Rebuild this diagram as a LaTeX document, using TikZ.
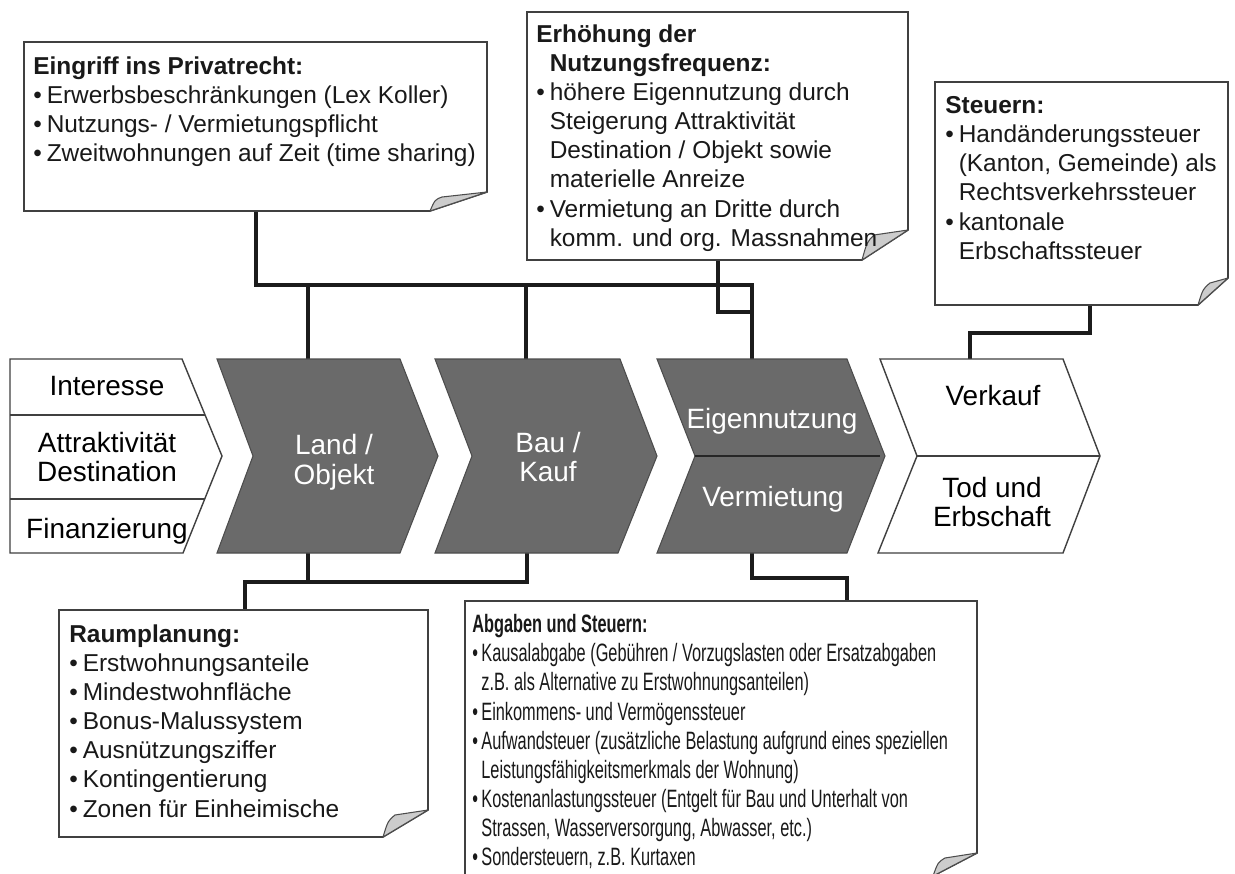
\documentclass[tikz,border=0pt]{standalone}
\usepackage{fontspec}
\setmainfont{Liberation Sans}
\newfontfamily\narrowfont[FakeStretch=0.65]{Liberation Sans}
\usetikzlibrary{calc}
\definecolor{chevgray}{RGB}{106,106,106}
\definecolor{linegray}{RGB}{28,28,28}
\newcommand\bul{\makebox[0.55em][l]{\textbullet}}
\newcommand\ind{\hspace*{0.55em}}
\newcommand\nbul{\makebox[0.36em][l]{\textbullet}}
\newcommand\nind{\hspace*{0.36em}}
% left, top, right, bottom, fold width, fold height
\newcommand\notebox[6]{%
  \draw[note] (#1,#2) -- (#3,#2) -- (#3,#4-#6) -- (#3-#5,#4) -- (#1,#4) -- cycle;
  \draw[fold] (#3-#5,#4) .. controls (#3-#5+5,#4-0.6*#6) .. (#3-#5+12,#4-#6+5) -- (#3,#4-#6) -- cycle;}
\tikzset{
  chevdark/.style={fill=chevgray, draw=black!70, line width=0.6pt},
  chevlight/.style={fill=white, draw=black!75, line width=0.8pt},
  link/.style={draw=linegray, line width=2.8pt},
  note/.style={fill=white, draw=black!75, line width=0.9pt},
  fold/.style={fill=gray!40, draw=black!70, line width=0.6pt, line join=round},
  lab/.style={align=center, inner sep=0pt, font=\fontsize{15.9}{17}\selectfont},
  notetext/.style={anchor=north west, align=left, inner sep=0pt, text=black!90,
    font=\fontsize{13.9}{16.6}\selectfont}
}
\begin{document}
\begin{tikzpicture}[x=0.02cm,y=-0.02cm]
\useasboundingbox (0,0) rectangle (1235,873);
\fill[white] (0,0) rectangle (1235,873);
\def\ct{359}
\def\cm{456}
\def\cb{553}
% connection points
\coordinate (land-n) at (308,\ct);
\coordinate (land-s) at (308,\cb);
\coordinate (bau-n) at (526,\ct);
\coordinate (bau-s) at (527,\cb);
\coordinate (nutz-n) at (752,\ct);
\coordinate (nutz-s) at (752,\cb);
\coordinate (verk-n) at (970,\ct);
\coordinate (priv-s) at (256,211);
\coordinate (freq-s) at (718,260);
\coordinate (steu-s) at (1090,305);
\coordinate (raum-n) at (245,610);
\coordinate (abg-n) at (847,601);
\coordinate (bus-t) at (0,285);
\coordinate (bus-q) at (0,312);
\coordinate (bus-b) at (0,582);

\draw[link] (priv-s) |- (nutz-n |- bus-t) -- (nutz-n);
\draw[link] (land-n) -- (land-n |- bus-t);
\draw[link] (bau-n) -- (bau-n |- bus-t);
\draw[link] (freq-s) |- (nutz-n |- bus-q);
\draw[link] (steu-s) -- ++(0,28) -| (verk-n);
\draw[link] (bau-s) |- (raum-n |- bus-b) -- (raum-n);
\draw[link] (land-s) -- (land-s |- bus-b);
\draw[link] (nutz-s) -- ++(0,25) -| (abg-n);

% chevrons
\draw[chevlight] (10,\ct) -- (182,\ct) -- (222,\cm) -- (183,\cb) -- (10,\cb) -- cycle;
\draw[chevlight] (10,415) -- (205,415) (10,499) -- (205,499);
\draw[chevdark] (217,\ct) -- (400,\ct) -- (438,\cm) -- (400,\cb) -- (217,\cb) -- (253,\cm) -- cycle;
\draw[chevdark] (435,\ct) -- (620,\ct) -- (657,\cm) -- (618,\cb) -- (435,\cb) -- (472,\cm) -- cycle;
\draw[chevdark] (657,\ct) -- (847,\ct) -- (885,\cm) -- (847,\cb) -- (657,\cb) -- (695,\cm) -- cycle;
\draw[black!85, line width=0.8pt] (695,\cm) -- (880,\cm);
\draw[chevlight] (880,\ct) -- (1063,\ct) -- (1100,\cm) -- (1063,\cb) -- (878,\cb) -- (917,\cm) -- cycle;
\draw[chevlight] (917,\cm) -- (1100,\cm);

\node[lab] (interesse) at (107,386) {Interesse};
\node[lab] (attr) at (107,457) {Attraktivität\\Destination};
\node[lab] (finanz) at (107,531) {Finanzierung};
\node[lab, text=white] (land) at (334,462) {Land /\\Objekt};
\node[lab, text=white] (bau) at (548,457) {Bau /\\Kauf};
\node[lab, text=white] (eigen) at (772,421) {Eigennutzung};
\node[lab, text=white] (verm) at (773,499) {Vermietung};
\node[lab] (verkauf) at (993,396) {Verkauf};
\node[lab] (tod) at (992,502) {Tod und\\Erbschaft};

% notes
\notebox{24}{42}{487}{211}{57}{19}
\notebox{527}{12}{908}{260}{46}{30}
\notebox{935}{82}{1228}{305}{30}{27}
\notebox{59}{610}{428}{837}{45}{27}
\notebox{465}{601}{977}{876}{44}{23}

\node[notetext] (priv) at (33,56) {\textbf{Eingriff ins Privatrecht:}\\
\bul Erwerbsbeschränkungen (Lex Koller)\\
\bul Nutzungs- / Vermietungspflicht\\
\bul Zweitwohnungen auf Zeit (time sharing)};
\node[notetext] (freq) at (536,24) {\textbf{Erhöhung der}\\
\ind\textbf{Nutzungsfrequenz:}\\
\bul höhere Eigennutzung durch\\
\ind Steigerung Attraktivität\\
\ind Destination / Objekt sowie\\
\ind materielle Anreize\\
\bul Vermietung an Dritte durch\\
\ind komm. und org. Massnahmen};
\node[notetext] (steu) at (945,96) {\textbf{Steuern:}\\
\bul Handänderungssteuer\\
\ind (Kanton, Gemeinde) als\\
\ind Rechtsverkehrssteuer\\
\bul kantonale\\
\ind Erbschaftssteuer};
\node[notetext] (raum) at (69,624) {\textbf{Raumplanung:}\\
\bul Erstwohnungsanteile\\
\bul Mindestwohnfläche\\
\bul Bonus-Malussystem\\
\bul Ausnützungsziffer\\
\bul Kontingentierung\\
\bul Zonen für Einheimische};
\node[notetext, font=\narrowfont\fontsize{14.3}{16.6}\selectfont] (abg) at (472,614) {\textbf{Abgaben und Steuern:}\\
\nbul Kausalabgabe (Gebühren / Vorzugslasten oder Ersatzabgaben\\
\nind z.B. als Alternative zu Erstwohnungsanteilen)\\
\nbul Einkommens- und Vermögenssteuer\\
\nbul Aufwandsteuer (zusätzliche Belastung aufgrund eines speziellen\\
\nind Leistungsfähigkeitsmerkmals der Wohnung)\\
\nbul Kostenanlastungssteuer (Entgelt für Bau und Unterhalt von\\
\nind Strassen, Wasserversorgung, Abwasser, etc.)\\
\nbul Sondersteuern, z.B. Kurtaxen};
\end{tikzpicture}
\end{document}
